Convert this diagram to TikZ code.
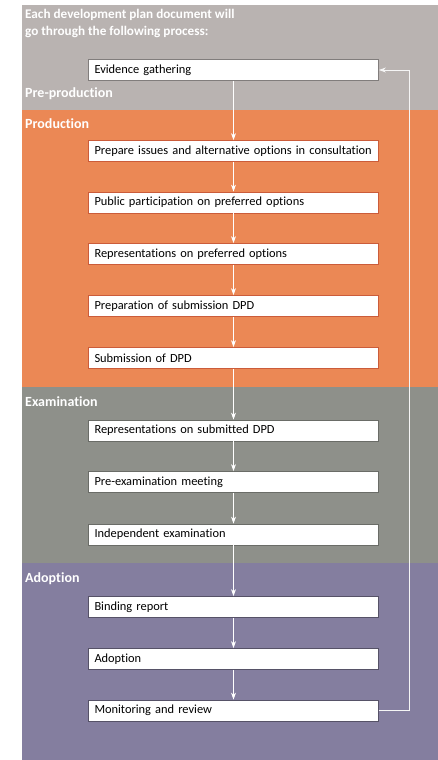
\documentclass[tikz,border=0pt]{standalone}
\usepackage{fontspec}
\setmainfont{Carlito}[Ligatures={NoCommon,NoContextual}]
\usepackage{tikz}
\usetikzlibrary{arrows.meta,calc}
\definecolor{precolor}{HTML}{B9B3B1}
\definecolor{prodcolor}{HTML}{EB8855}
\definecolor{examcolor}{HTML}{8E908A}
\definecolor{adoptcolor}{HTML}{847E9F}
\newcommand{\boxwidth}{290pt}
\newcommand{\boxheight}{21pt}

\begin{document}
\begin{tikzpicture}[x=1pt,y=-1pt,
  stepbox/.style={draw, fill=white, line width=0.8pt, minimum height=\boxheight,
    text width=\boxwidth-12pt, inner xsep=6pt, inner ysep=0pt, align=left,
    font=\fontsize{12.4}{14}\selectfont},
  phase/.style={anchor=west, inner sep=0pt, text=white, font=\fontsize{14}{17}\selectfont\bfseries},
  flow/.style={draw=white, line width=0.9pt, -{Stealth[length=7pt,width=5pt]}}]
\useasboundingbox (0,0) rectangle (438,760);
%backgrounds
\fill[precolor] (22,5) rectangle (438,110);
\fill[prodcolor] (22,110) rectangle (438,387);
\fill[examcolor] (22,387) rectangle (438,563);
\fill[adoptcolor] (22,563) rectangle (438,760);
%labels
\node[phase, anchor=north west, align=left, font=\fontsize{13.2}{17}\selectfont\bfseries] (t) at (25,9) {Each development plan document will\\go through the following process:};
\node[phase] (p0) at (25,94) {Pre-production};
\node[phase] (p1) at (25,124) {Production};
\node[phase] (p2) at (25,402) {Examination};
\node[phase] (p3) at (25,579) {Adoption};
%steps
\node[stepbox, draw=precolor!70!black] (1) at (233.5,70) {Evidence gathering};
\node[stepbox, draw=prodcolor!80!red!85!black] (2) at (233.5,151) {Prepare issues and alternative options in consultation};
\node[stepbox, draw=prodcolor!80!red!85!black] (3) at (233.5,202.5) {Public participation on preferred options};
\node[stepbox, draw=prodcolor!80!red!85!black] (4) at (233.5,254) {Representations on preferred options};
\node[stepbox, draw=prodcolor!80!red!85!black] (5) at (233.5,306) {Preparation of submission DPD};
\node[stepbox, draw=prodcolor!80!red!85!black] (6) at (233.5,358) {Submission of DPD};
\node[stepbox, draw=examcolor!75!black] (7) at (233.5,430.5) {Representations on submitted DPD};
\node[stepbox, draw=examcolor!75!black] (8) at (233.5,482) {Pre-examination meeting};
\node[stepbox, draw=examcolor!75!black] (9) at (233.5,534.5) {Independent examination};
\node[stepbox, draw=adoptcolor!65!black] (10) at (233.5,607) {Binding report};
\node[stepbox, draw=adoptcolor!65!black] (11) at (233.5,659) {Adoption};
\node[stepbox, draw=adoptcolor!65!black] (12) at (233.5,710.5) {Monitoring and review};
%arrows
\foreach \a/\b in {1/2,2/3,3/4,4/5,5/6,6/7,7/8,8/9,9/10,10/11,11/12}
  \draw[flow] (\a) -- (\b);
\draw[flow, draw=white!92!gray] (12.east) -- ++(31,0) |- (1.east);
\end{tikzpicture}
\end{document}
